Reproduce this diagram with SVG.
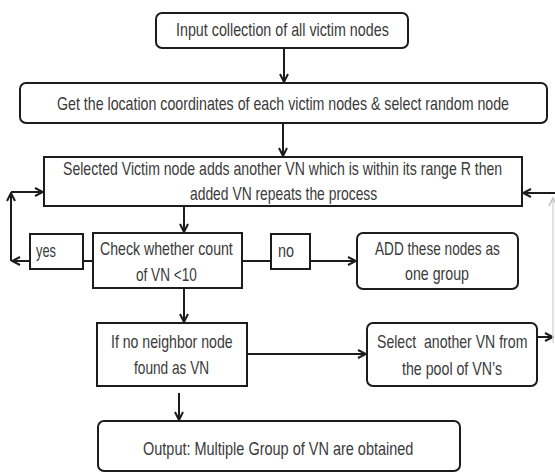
<svg xmlns="http://www.w3.org/2000/svg" width="555" height="473" viewBox="0 0 555 473">
  <style>
    .box { fill: #ffffff; stroke: #1c1c1c; stroke-width: 2; }
    .lbl { font-family: "Liberation Sans", Arial, sans-serif; font-size: 18px; fill: #3a3a3a; }
    .wire { fill: none; stroke: #1c1c1c; stroke-width: 2; }
    .faint { fill: none; stroke: #d8d8d8; stroke-width: 1.5; }
  </style>
  <defs>
    <marker id="arr" viewBox="0 0 10 10" refX="9" refY="5" markerWidth="10" markerHeight="10" markerUnits="userSpaceOnUse" orient="auto">
      <path d="M1,1 L9,5 L1,9" fill="none" stroke="#1c1c1c" stroke-width="2"/>
    </marker>
    <marker id="arrFaint" viewBox="0 0 10 10" refX="9" refY="5" markerWidth="10" markerHeight="10" markerUnits="userSpaceOnUse" orient="auto">
      <path d="M1,1 L9,5 L1,9" fill="none" stroke="#bdbdbd" stroke-width="1.5"/>
    </marker>
  </defs>
  <rect width="555" height="473" fill="#ffffff"/>

  <g id="connectors">
    <line class="wire" x1="284" y1="48" x2="284" y2="82" marker-end="url(#arr)"/>
    <line class="wire" x1="283" y1="123" x2="283" y2="156" marker-end="url(#arr)"/>
    <line class="wire" x1="184" y1="206" x2="184" y2="232" marker-end="url(#arr)"/>
    <!-- check -> yes / no -->
    <line class="wire" x1="93" y1="261" x2="83" y2="261"/>
    <line class="wire" x1="242" y1="261" x2="271" y2="261"/>
    <line class="wire" x1="310" y1="261" x2="356" y2="261" marker-end="url(#arr)"/>
    <!-- yes loop back -->
    <line class="wire" x1="30" y1="261" x2="12" y2="261" marker-end="url(#arr)"/>
    <line class="wire" x1="11" y1="261" x2="11" y2="193" marker-end="url(#arr)"/>
    <line class="wire" x1="11" y1="192" x2="43" y2="192" marker-end="url(#arr)"/>
    <!-- check -> neighbor test -> output -->
    <line class="wire" x1="184" y1="289" x2="184" y2="322" marker-end="url(#arr)"/>
    <line class="wire" x1="179" y1="393" x2="179" y2="420" marker-end="url(#arr)"/>
    <line class="wire" x1="247" y1="354" x2="366" y2="354" marker-end="url(#arr)"/>
    <!-- select another VN loops back to the range step -->
    <line class="wire" x1="537" y1="337" x2="553" y2="337" marker-end="url(#arr)"/>
    <line class="faint" x1="553" y1="343" x2="553" y2="198" marker-end="url(#arrFaint)"/>
    <line class="wire" x1="556" y1="193" x2="523" y2="193" marker-end="url(#arr)"/>
  </g>

  <!-- labels are set in a horizontally condensed face: scale(0.8,1) -->
  <g id="input">
    <rect class="box" x="156" y="13" width="252" height="35" rx="6"/>
    <text class="lbl" transform="translate(176,36) scale(0.8,1)" textLength="266" lengthAdjust="spacingAndGlyphs">Input collection of all victim nodes</text>
  </g>

  <g id="locate">
    <rect class="box" x="20" y="83" width="527" height="40" rx="6"/>
    <text class="lbl" transform="translate(57,110) scale(0.8,1)" textLength="565" lengthAdjust="spacingAndGlyphs">Get the location coordinates of each victim nodes &amp; select random node</text>
  </g>

  <g id="range-step">
    <rect class="box" x="44" y="157" width="478" height="49"/>
    <text class="lbl" transform="translate(63,175) scale(0.8,1)" textLength="549" lengthAdjust="spacingAndGlyphs">Selected Victim node adds another VN which is within its range R then</text>
    <text class="lbl" transform="translate(190,200) scale(0.8,1)" textLength="234" lengthAdjust="spacingAndGlyphs">added VN repeats the process</text>
  </g>

  <g id="count-check">
    <rect class="box" x="93" y="233" width="149" height="55"/>
    <text class="lbl" transform="translate(100,255) scale(0.8,1)" textLength="166" lengthAdjust="spacingAndGlyphs">Check whether count</text>
    <text class="lbl" transform="translate(136,281) scale(0.8,1)" textLength="76" lengthAdjust="spacingAndGlyphs">of VN &lt;10</text>
  </g>

  <g id="yes">
    <rect class="box" x="30" y="234" width="53" height="35"/>
    <text class="lbl" transform="translate(36,257) scale(0.8,1)" textLength="25" lengthAdjust="spacingAndGlyphs">yes</text>
  </g>

  <g id="no">
    <rect class="box" x="271" y="234" width="39" height="35"/>
    <text class="lbl" transform="translate(278,257) scale(0.8,1)" textLength="20" lengthAdjust="spacingAndGlyphs">no</text>
  </g>

  <g id="add-group">
    <rect class="box" x="357" y="233" width="161" height="56" rx="6"/>
    <text class="lbl" transform="translate(375,255) scale(0.8,1)" textLength="156" lengthAdjust="spacingAndGlyphs">ADD these nodes as</text>
    <text class="lbl" transform="translate(405,280) scale(0.8,1)" textLength="80" lengthAdjust="spacingAndGlyphs">one group</text>
  </g>

  <g id="neighbor-check">
    <rect class="box" x="97" y="323" width="150" height="63"/>
    <text class="lbl" transform="translate(111,348) scale(0.8,1)" textLength="152" lengthAdjust="spacingAndGlyphs">If no neighbor node</text>
    <text class="lbl" transform="translate(134,374) scale(0.8,1)" textLength="94" lengthAdjust="spacingAndGlyphs">found as VN</text>
  </g>

  <g id="select-another">
    <rect class="box" x="367" y="323" width="170" height="63" rx="6"/>
    <text class="lbl" transform="translate(377,348) scale(0.8,1)" textLength="188" lengthAdjust="spacingAndGlyphs" xml:space="preserve">Select  another VN from</text>
    <text class="lbl" transform="translate(402,375) scale(0.8,1)" textLength="125" lengthAdjust="spacingAndGlyphs">the pool of VN’s</text>
  </g>

  <g id="output">
    <rect class="box" x="98" y="421" width="362" height="50" rx="6"/>
    <text class="lbl" transform="translate(143,455) scale(0.8,1)" textLength="338" lengthAdjust="spacingAndGlyphs">Output: Multiple Group of VN are obtained</text>
  </g>
</svg>
